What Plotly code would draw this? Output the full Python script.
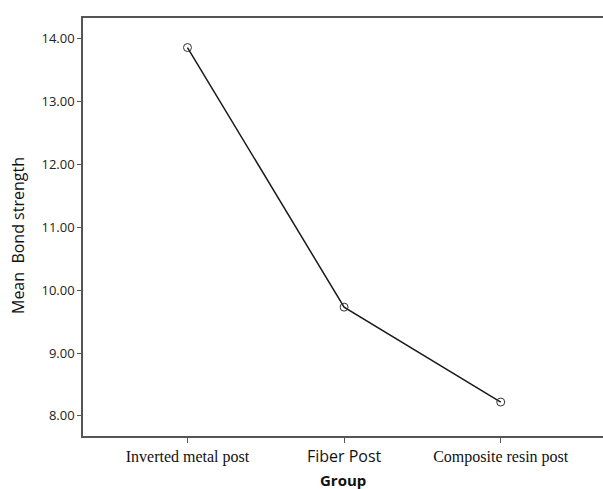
import plotly.graph_objects as go

groups = ["Inverted metal post", "Fiber Post", "Composite resin post"]
means = [13.86, 9.73, 8.22]
y_ticks = [8, 9, 10, 11, 12, 13, 14]
y_tick_labels = ["8.00", "9.00", "10.00", "11.00", "12.00", "13.00", "14.00"]

serif = "Liberation Serif, Times New Roman, serif"
sans = "Open Sans, Noto Sans, sans-serif"
tick_text = [
    f'<span style="font-family:{serif}">{groups[0]}</span>',
    f'<span style="font-family:{sans}">{groups[1]}</span>',
    f'<span style="font-family:{serif}">{groups[2]}</span>',
]

fig = go.Figure()
fig.add_trace(go.Scatter(
    x=list(range(len(groups))), y=means, mode="lines+markers",
    line=dict(color="#1a1a1a", width=1.5),
    marker=dict(symbol="circle-open", size=8, color="#333333", line=dict(width=1)),
    showlegend=False,
))

L, T, B, R = 83, 18, 53, 0
H = 489 - T - B
W = 603 - L - R

fig.update_layout(
    width=603, height=489,
    margin=dict(l=L, r=R, t=T, b=B),
    paper_bgcolor="white", plot_bgcolor="white",
    font=dict(family=sans, color="#222222"),
    xaxis=dict(
        range=[-0.667, 2.653], tickvals=list(range(len(groups))), ticktext=tick_text,
        showline=True, linecolor="#555555", linewidth=1.5, mirror=True,
        ticks="outside", ticklen=5, tickcolor="#555555", showgrid=False, zeroline=False,
        tickfont=dict(size=16, color="#111111"), automargin=False,
    ),
    yaxis=dict(
        range=[7.68, 14.33], tickvals=y_ticks, ticktext=y_tick_labels,
        showline=True, linecolor="#555555", linewidth=1.5,
        ticks="outside", ticklen=4, tickcolor="#555555", showgrid=False, zeroline=False,
        tickfont=dict(size=13, color="#222222"), automargin=False,
    ),
    annotations=[
        dict(text="<b>Group</b>", xref="paper", yref="paper",
             x=(343 - L) / W, y=-(480 - (T + H)) / H,
             xanchor="center", yanchor="middle", showarrow=False,
             font=dict(size=15, family=sans, color="#111111")),
        dict(text="Mean  Bond strength", xref="paper", yref="paper",
             x=(18 - L) / W, y=(T + H - 236) / H, textangle=-90,
             xanchor="center", yanchor="middle", showarrow=False,
             font=dict(size=16, family=sans, color="#111111")),
    ],
)

fig.write_html(
    "out.html",
    config={"displayModeBar": False},
    post_script="document.body.style.margin='0px';document.body.style.overflow='hidden';",
)
